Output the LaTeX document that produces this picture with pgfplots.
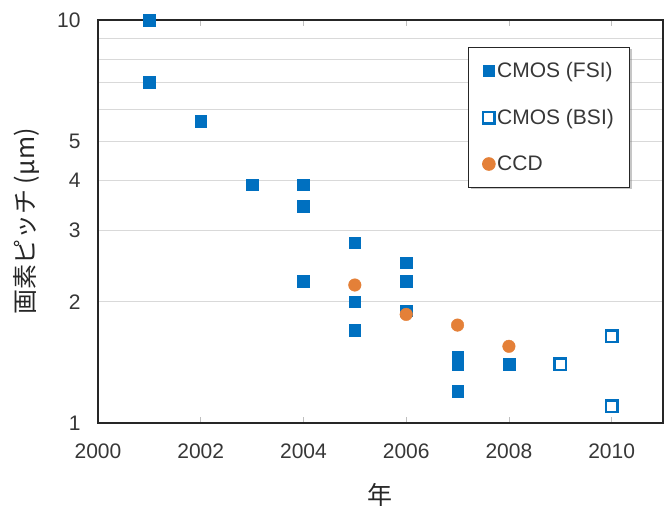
\documentclass[border=0pt]{standalone}
\usepackage{fontspec}
\setmainfont{Liberation Sans}
\newfontfamily\jp{Noto Sans CJK JP}
\usepackage{pgfplots}
\pgfplotsset{compat=1.18}
\usetikzlibrary{shadows}
\definecolor{cblue}{RGB}{0,112,192}
\definecolor{corange}{RGB}{228,128,56}
\definecolor{ctext}{RGB}{55,55,55}
\begin{document}
\begin{tikzpicture}
\path[use as bounding box] (0pt,0pt) rectangle (669pt,509pt);
\begin{axis}[
  at={(98pt,86pt)}, anchor=south west,
  scale only axis, width=565pt, height=403pt,
  xmin=2000, xmax=2011, ymin=1, ymax=10, ymode=log,
  clip=false,
  xtick={2000,2002,2004,2006,2008,2010},
  xticklabels={2000,2002,2004,2006,2008,2010},
  ytick={1,2,3,4,5,6,7,8,9,10},
  yticklabels={1,2,3,4,5,,,,,10},
  yminorticks=false, xminorticks=false,
  ymajorgrids, grid style={draw=black!15, line width=0.8pt},
  axis line style={line width=2pt, black!85},
  tick align=inside,
  xtick style={draw=black!25, line width=0.8pt},
  major tick length=6pt,
  ytick style={draw=none},
  /pgf/number format/assume math mode=true,
  ticklabel style={font=\fontsize{21}{24}\selectfont, text=ctext},
  xticklabel style={yshift=-17pt},
  yticklabel style={xshift=-14pt},
  xlabel={\jp 年}, ylabel={\jp 画素ピッチ (µm)},
  label style={font=\fontsize{25}{28}\selectfont, text=black!85},
  xlabel style={at={(axis description cs:0.499,-0.179)}, anchor=center},
  ylabel style={at={(axis description cs:-0.126,0.5)}, anchor=center},
  legend style={at={(0.655,0.933)}, anchor=north west, draw=black!85, line width=1pt,
    fill=white, font=\fontsize{21}{24}\selectfont, text=ctext,
    row sep=26pt, inner xsep=14pt, inner ysep=13pt,
    drop shadow={shadow xshift=2pt, shadow yshift=-2pt, opacity=0.45}},
  legend cell align=left,
  legend image code/.code={\draw[mark repeat=2,mark phase=2,#1] plot coordinates {(0pt,0pt)(7pt,0pt)(15pt,0pt)};},
]
\addplot[only marks, mark=square*, mark size=5.8pt, color=cblue] coordinates {
 (2001,10) (2001,7.0) (2002,5.6) (2003,3.9) (2004,3.9) (2004,3.45) (2004,2.25)
 (2005,2.8) (2005,2.0) (2005,1.7) (2006,2.5) (2006,2.25) (2006,1.9)
 (2007,1.46) (2007,1.4) (2007,1.2) (2008,1.4)};
\addlegendentry{CMOS (FSI)}
\addplot[only marks, mark=square, mark size=5.8pt, color=cblue, line width=2.4pt] coordinates {
 (2009,1.4) (2010,1.64) (2010,1.1)};
\addlegendentry{CMOS (BSI)}
\addplot[only marks, mark=*, mark size=6.3pt, color=corange] coordinates {
 (2005,2.2) (2006,1.86) (2007,1.75) (2008,1.55)};
\addlegendentry{CCD}
\end{axis}
\end{tikzpicture}
\end{document}
